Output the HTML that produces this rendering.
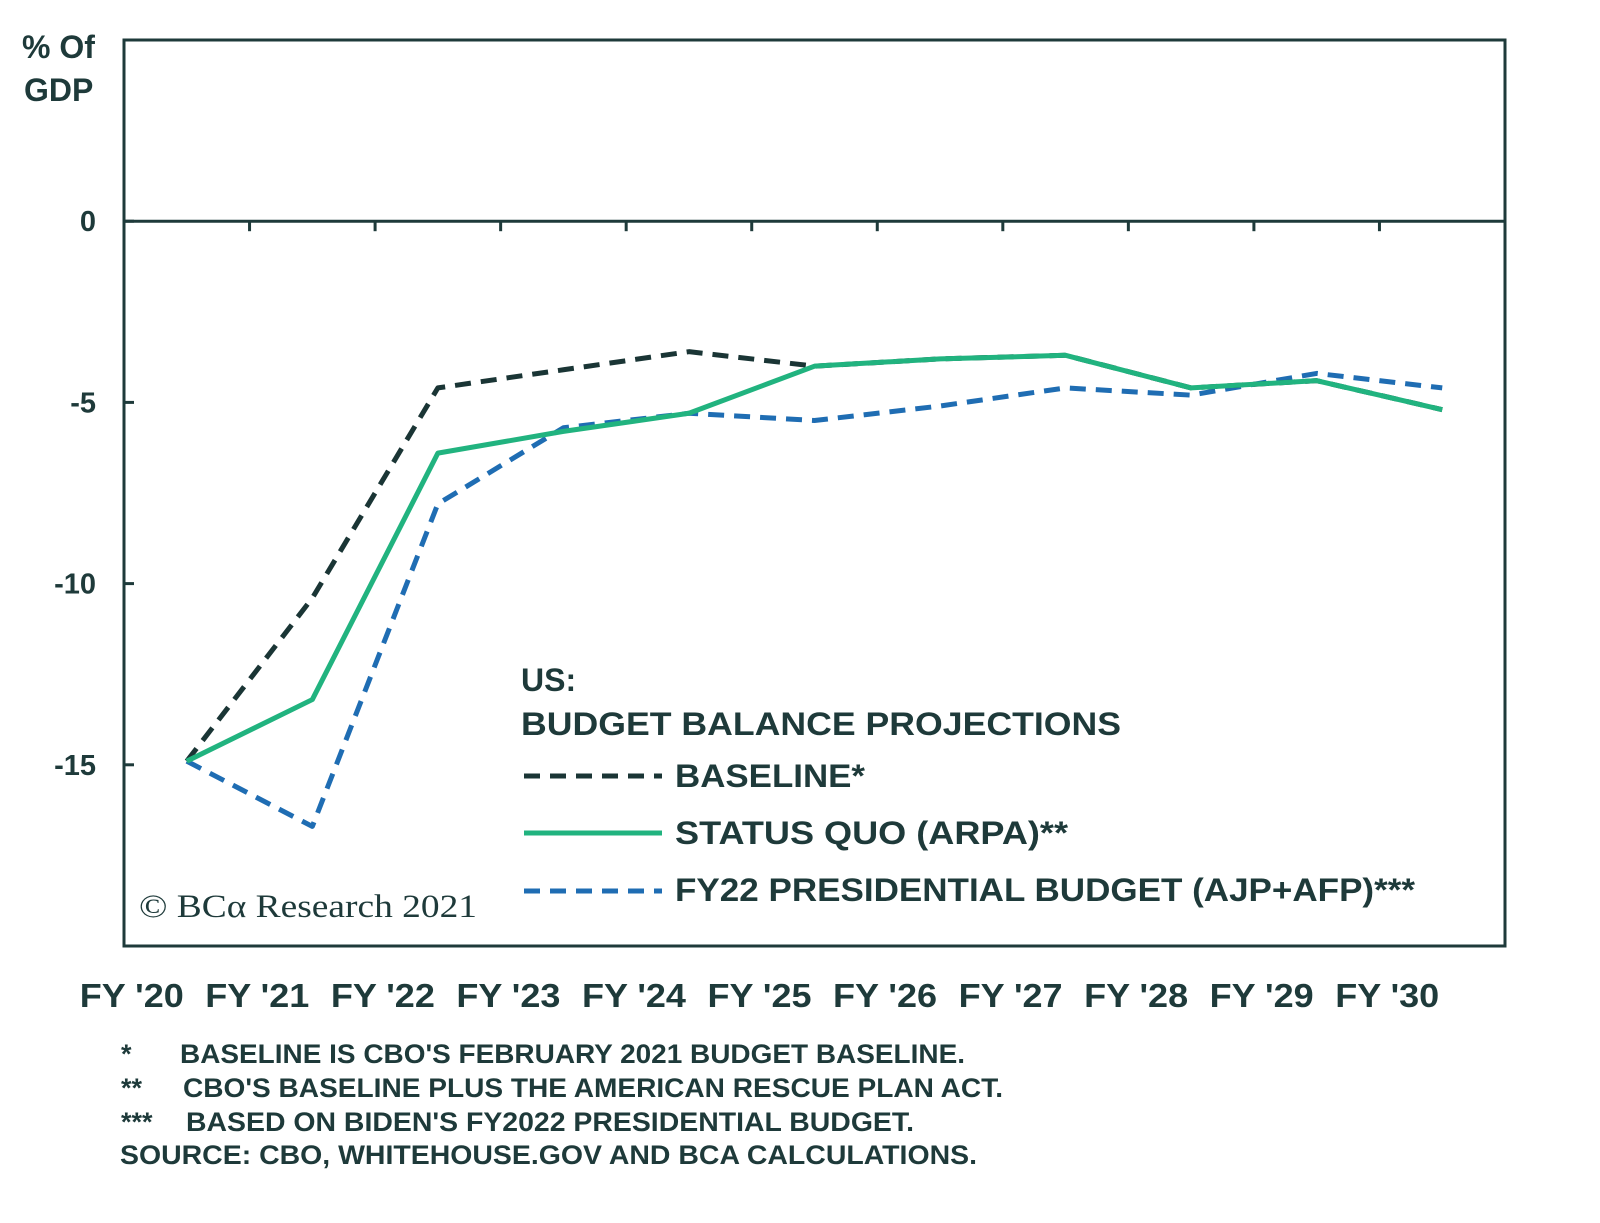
<!DOCTYPE html>
<html><head><meta charset="utf-8"><style>
body{margin:0;background:#fff;}
svg text{font-family:"Liberation Sans",sans-serif;fill:#1e3a3a;font-weight:bold;}
</style></head><body>
<svg width="1600" height="1218" viewBox="0 0 1600 1218">
<g id="plot"></g>
</svg>
<script>
const categories=["FY '20","FY '21","FY '22","FY '23","FY '24","FY '25","FY '26","FY '27","FY '28","FY '29","FY '30"];
const baseline=[-14.9,-10.4,-4.6,-4.1,-3.6,-4.0,-3.8,-3.7,-4.6,-4.4,-5.2];
const statusQuo=[-14.9,-13.2,-6.4,-5.8,-5.3,-4.0,-3.8,-3.7,-4.6,-4.4,-5.2];
const presBudget=[-14.9,-16.7,-7.8,-5.7,-5.3,-5.5,-5.1,-4.6,-4.8,-4.2,-4.6];
const yTicks=[0,-5,-10,-15];
const NS="http://www.w3.org/2000/svg";
const svg=document.querySelector('svg');
const L=124,R=1505,T=40,B=946,yMax=5,yMin=-20;
const step=(R-L)/categories.length;
const x=i=>L+step*(i+0.5);
const y=v=>T+(yMax-v)/(yMax-yMin)*(B-T);
function mk(tag,attrs,parent){const e=document.createElementNS(NS,tag);for(const k in attrs)e.setAttribute(k,attrs[k]);(parent||svg).appendChild(e);return e;}
let f=mk('rect',{x:L,y:T,width:R-L,height:B-T,fill:'none',stroke:'#1e3a3a','stroke-width':3});


let z=mk('line',{x1:L,x2:R,y1:y(0),y2:y(0),stroke:'#1e3a3a','stroke-width':3});


for(let i=1;i<categories.length;i++){
 let t=mk('line',{x1:L+step*i,x2:L+step*i,y1:y(0),y2:y(0)+10,stroke:'#1e3a3a','stroke-width':3});
 
 
}
yTicks.forEach(v=>{
 let t=mk('line',{x1:L,x2:L+10,y1:y(v),y2:y(v),stroke:'#1e3a3a','stroke-width':3});
 
 
 let l=mk('text',{x:L-28,y:y(v)+10,'text-anchor':'end','font-size':29});
 l.textContent=String(v);
 
 
});
categories.forEach((c,i)=>{
 let l=mk('text',{x:x(i)-55,y:1007,'text-anchor':'middle','font-size':33,textLength:104,lengthAdjust:'spacingAndGlyphs'});
 l.textContent=c;
 
 
});
function series(data,color,dash,name){
 let p=mk('polyline',{points:data.map((v,i)=>x(i)+','+y(v)).join(' '),fill:'none',stroke:color,'stroke-width':5,'stroke-dasharray':dash,'stroke-linejoin':'round'});
 
 
}
series(presBudget,'#1f6db3','16 10','line-presidential-budget');
series(baseline,'#1a3535','16 10','line-baseline');
series(statusQuo,'#21b37f','none','line-status-quo');
</script>
<svg width="1600" height="1218" style="position:absolute;left:0;top:0">
<text x="22" y="58" font-size="32">% Of</text>
<text x="24" y="101" font-size="32">GDP</text>
<text x="521" y="691" font-size="32">US:</text>
<text x="521" y="735" font-size="32" textLength="600" lengthAdjust="spacingAndGlyphs">BUDGET BALANCE PROJECTIONS</text>
<line x1="524" x2="662" y1="776" y2="776" stroke="#1a3535" stroke-width="5" stroke-dasharray="16 10"/>
<text x="675" y="787" font-size="32" textLength="190" lengthAdjust="spacingAndGlyphs">BASELINE*</text>
<line x1="524" x2="662" y1="833" y2="833" stroke="#21b37f" stroke-width="5"/>
<text x="675" y="844" font-size="32" textLength="393" lengthAdjust="spacingAndGlyphs">STATUS QUO (ARPA)**</text>
<line x1="524" x2="662" y1="891" y2="891" stroke="#1f6db3" stroke-width="5" stroke-dasharray="16 10"/>
<text x="675" y="901" font-size="32" textLength="740" lengthAdjust="spacingAndGlyphs">FY22 PRESIDENTIAL BUDGET (AJP+AFP)***</text>
<text x="139" y="917" font-size="33" textLength="338" lengthAdjust="spacingAndGlyphs" style="font-family:'Liberation Serif',serif;font-weight:normal">© BCα Research 2021</text>
<g font-size="27">
<text x="121" y="1063">*</text><text x="180" y="1063" textLength="785" lengthAdjust="spacingAndGlyphs">BASELINE IS CBO'S FEBRUARY 2021 BUDGET BASELINE.</text>
<text x="121" y="1097">**</text><text x="183" y="1097" textLength="820" lengthAdjust="spacingAndGlyphs">CBO'S BASELINE PLUS THE AMERICAN RESCUE PLAN ACT.</text>
<text x="121" y="1131">***</text><text x="186" y="1131" textLength="728" lengthAdjust="spacingAndGlyphs">BASED ON BIDEN'S FY2022 PRESIDENTIAL BUDGET.</text>
<text x="120" y="1164" textLength="857" lengthAdjust="spacingAndGlyphs">SOURCE: CBO, WHITEHOUSE.GOV AND BCA CALCULATIONS.</text>
</g>
</svg>
</body></html>
